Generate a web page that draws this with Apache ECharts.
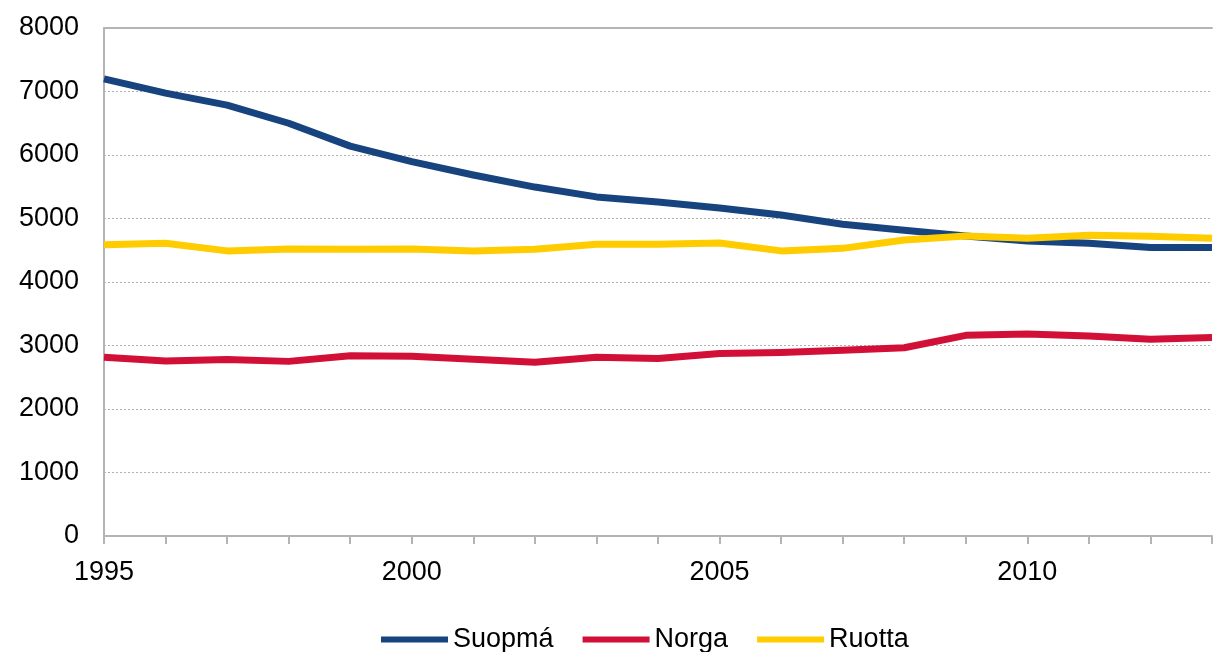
<!DOCTYPE html>
<html><head><meta charset="utf-8">
<script src="https://cdn.jsdelivr.net/npm/echarts@6/dist/echarts.min.js"></script>
<style>html,body{margin:0;padding:0;background:#fff}#c{width:1215px;height:652px}</style>
</head><body><div id="c"></div>
<script>
const years = [1995,1996,1997,1998,1999,2000,2001,2002,2003,2004,2005,2006,2007,2008,2009,2010,2011,2012,2013];
const suopma = [7200,6975,6785,6500,6140,5895,5685,5495,5340,5260,5165,5055,4910,4815,4725,4645,4610,4545,4545];
const norga  = [2815,2755,2780,2750,2840,2830,2785,2735,2815,2795,2875,2890,2925,2965,3160,3180,3150,3100,3125];
const ruotta = [4585,4610,4490,4520,4515,4520,4490,4515,4595,4595,4615,4490,4530,4660,4725,4690,4735,4720,4690];
const yTicks = [0,1000,2000,3000,4000,5000,6000,7000,8000];
const names = ['Suopmá','Norga','Ruotta'];
const colors = ['#17447f','#d21037','#ffcc00'];

const pair = arr => years.map((y,i)=>[y,arr[i]]);
const font = '"Liberation Sans", Arial, Helvetica, sans-serif';
const chart = echarts.init(document.getElementById('c'));
chart.setOption({
  animation:false,
  textStyle:{fontFamily:font},
  grid:{left:104,right:0,top:28,bottom:116,containLabel:false},
  legend:{
    data:names, top:621, left:376,
    icon:'rect', itemWidth:67, itemHeight:6, itemGap:29,
    textStyle:{fontSize:27,color:'#000',fontFamily:font}
  },
  xAxis:[{
    type:'value', min:1995, max:2013, interval:1,
    axisLine:{show:true,lineStyle:{color:'#b4b4b4',width:2}},
    axisTick:{show:true,length:8,lineStyle:{color:'#b4b4b4',width:2}},
    splitLine:{show:false},
    axisLabel:{fontSize:27,color:'#000',margin:23,fontFamily:font,
      formatter:v=> (v%5===0 ? String(v) : '')}
  },{
    type:'value', position:'top', min:1995, max:2013,
    axisLine:{show:true,lineStyle:{color:'#b4b4b4',width:2}},
    axisTick:{show:false}, axisLabel:{show:false}, splitLine:{show:false}
  }],
  yAxis:{
    type:'value', min:0, max:8000, interval:1000,
    axisLine:{show:true,lineStyle:{color:'#b4b4b4',width:2}},
    axisTick:{show:false},
    splitLine:{show:true,lineStyle:{color:'#b0b0b0',type:[2,2],width:1}},
    axisLabel:{fontSize:27,color:'#000',margin:25,fontFamily:font,
      formatter:v=> yTicks.includes(v)? String(v):''}
  },
  series:[suopma,norga,ruotta].map((d,i)=>({
    name:names[i], type:'line', data:pair(d), showSymbol:false, symbol:'none',
    lineStyle:{color:colors[i],width:7,join:'round',cap:'butt'},
    itemStyle:{color:colors[i]}, z:3+ (i===2?1:0)
  }))
});
</script></body></html>
